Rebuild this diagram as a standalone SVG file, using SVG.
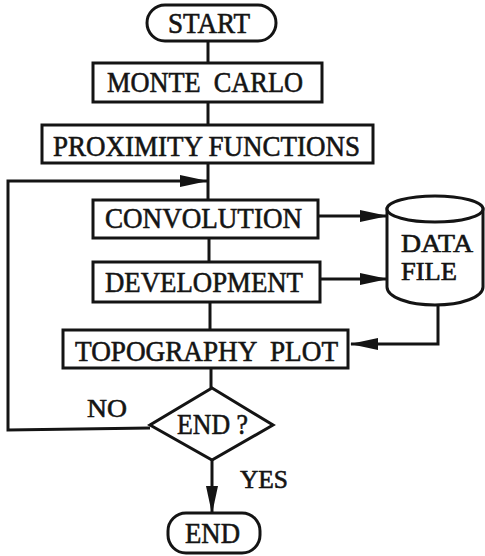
<svg xmlns="http://www.w3.org/2000/svg" width="485" height="556" viewBox="0 0 485 556">
<style>
.b{fill:#fff;stroke:#141414;stroke-width:3}
.c{fill:none;stroke:#141414;stroke-width:3}
text{font-family:"Liberation Serif","Times New Roman",serif;fill:#141414;stroke:#141414;stroke-width:0.6;font-size:29px;white-space:pre}
.s{font-size:26px}
.d{font-size:25px}
</style>
<defs>
<marker id="ah" markerUnits="userSpaceOnUse" markerWidth="28" markerHeight="14" refX="27" refY="7" orient="auto">
<path d="M0,1 L28,7 L0,13 z" fill="#141414"/>
</marker>
</defs>
<rect width="485" height="556" fill="#fff"/>
<g id="connectors">
<line class="c" x1="208" y1="40" x2="208" y2="63"/>
<line class="c" x1="208" y1="102" x2="208" y2="125"/>
<line class="c" x1="208" y1="163" x2="208" y2="200"/>
<line class="c" x1="209" y1="238" x2="209" y2="262"/>
<line class="c" x1="210" y1="302" x2="210" y2="330"/>
<line class="c" x1="211" y1="368" x2="211" y2="388"/>
<polyline class="c" points="150,428 8,430 8,181 207,181" marker-end="url(#ah)"/>
<line class="c" x1="318" y1="216" x2="387" y2="216" marker-end="url(#ah)"/>
<line class="c" x1="320" y1="279" x2="387" y2="279" marker-end="url(#ah)"/>
<polyline class="c" points="438,304 438,344 351,344" marker-end="url(#ah)"/>
<line class="c" x1="212" y1="460" x2="212" y2="513" marker-end="url(#ah)"/>
</g>
<g id="start">
<rect class="b" x="147" y="5" width="129" height="36" rx="18"/>
<text x="168" y="33" textLength="82" lengthAdjust="spacingAndGlyphs">START</text>
</g>
<g id="monte-carlo">
<rect class="b" x="93" y="63" width="229" height="39"/>
<text x="107" y="92" textLength="196" lengthAdjust="spacingAndGlyphs">MONTE  CARLO</text>
</g>
<g id="proximity-functions">
<rect class="b" x="42" y="125" width="331" height="38"/>
<text x="53" y="156" textLength="307" lengthAdjust="spacingAndGlyphs">PROXIMITY FUNCTIONS</text>
</g>
<g id="convolution">
<rect class="b" x="93" y="200" width="225" height="38"/>
<text x="105" y="228" textLength="197" lengthAdjust="spacingAndGlyphs">CONVOLUTION</text>
</g>
<g id="development">
<rect class="b" x="93" y="262" width="227" height="40"/>
<text x="105" y="292" textLength="198" lengthAdjust="spacingAndGlyphs">DEVELOPMENT</text>
</g>
<g id="topography-plot">
<rect class="b" x="63" y="330" width="285" height="38"/>
<text x="75" y="361" textLength="263" lengthAdjust="spacingAndGlyphs">TOPOGRAPHY  PLOT</text>
</g>
<g id="data-file">
<path class="b" d="M387,209 L387,287 A48,18 0 0 0 483,287 L483,209 Z"/>
<ellipse class="b" cx="435" cy="209" rx="48" ry="13"/>
<text class="d" x="401" y="252" textLength="72" lengthAdjust="spacingAndGlyphs">DATA</text>
<text class="d" x="401" y="280" textLength="56" lengthAdjust="spacingAndGlyphs">FILE</text>
</g>
<g id="end-decision">
<polygon class="b" points="212,388 273,425 212,460 150,425"/>
<text x="177" y="434" textLength="71" lengthAdjust="spacingAndGlyphs">END ?</text>
</g>
<g id="labels">
<text class="s" x="87" y="417" textLength="40" lengthAdjust="spacingAndGlyphs">NO</text>
<text class="s" x="240" y="488" textLength="48" lengthAdjust="spacingAndGlyphs">YES</text>
</g>
<g id="end">
<rect class="b" x="168" y="513" width="92" height="40" rx="18"/>
<text x="185" y="543" textLength="55" lengthAdjust="spacingAndGlyphs">END</text>
</g>
</svg>
